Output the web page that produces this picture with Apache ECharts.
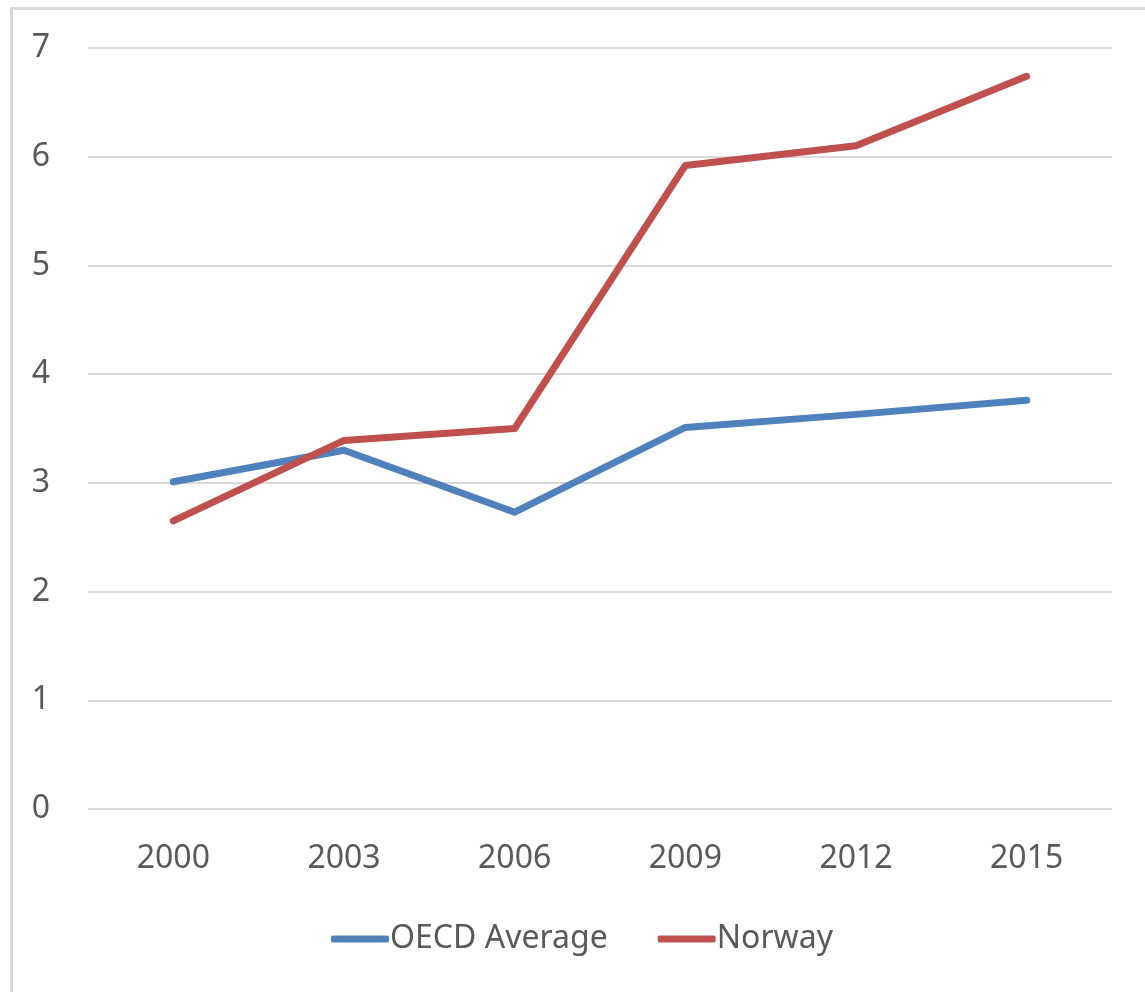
<!DOCTYPE html>
<html>
<head>
<meta charset="utf-8">
<script src="https://cdn.jsdelivr.net/npm/echarts@6/dist/echarts.min.js"></script>
<style>
html,body{margin:0;padding:0;background:#fff;}
#frame{position:absolute;left:10px;top:7px;width:1140px;height:990px;border-left:3px solid #d9d9d9;border-top:3px solid #d9d9d9;}
#chart{position:absolute;left:0;top:0;width:1145px;height:992px;}
</style>
</head>
<body>
<div id="frame"></div>
<div id="chart"></div>
<script>
// values
const years = ['2000', '2003', '2006', '2009', '2012', '2015'];
const oecdAverage = [3.01, 3.30, 2.73, 3.51, 3.63, 3.76];
const norway = [2.65, 3.39, 3.50, 5.92, 6.10, 6.74];
const yTicks = {min: 0, max: 7, interval: 1};

const FONT = 'Noto Sans';
const TEXT = '#595959';

const chart = echarts.init(document.getElementById('chart'));
chart.setOption({
    animation: false,
    textStyle: {fontFamily: FONT},
    grid: {left: 88, right: 33, top: 48, bottom: 183},
    legend: {
        left: 326,
        top: 918,
        itemWidth: 58,
        itemHeight: 7,
        itemGap: 50,
        icon: 'roundRect',
        textStyle: {fontFamily: FONT, fontSize: 32, color: TEXT, padding: [0, 0, 0, -4]},
        data: ['OECD Average', 'Norway']
    },
    xAxis: {
        type: 'category',
        data: years,
        boundaryGap: true,
        axisLine: {show: false},
        axisTick: {show: false},
        axisLabel: {fontFamily: FONT, fontSize: 32, color: TEXT, margin: 34}
    },
    yAxis: {
        type: 'value',
        min: yTicks.min,
        max: yTicks.max,
        interval: yTicks.interval,
        axisLine: {show: false},
        axisTick: {show: false},
        axisLabel: {fontFamily: FONT, fontSize: 32, color: TEXT, margin: 38},
        splitLine: {lineStyle: {color: '#d9d9d9', width: 2}}
    },
    series: [
        {
            name: 'OECD Average',
            type: 'line',
            data: oecdAverage,
            symbol: 'none',
            color: '#4f81bd',
            lineStyle: {width: 7, cap: 'round', join: 'round'}
        },
        {
            name: 'Norway',
            type: 'line',
            data: norway,
            symbol: 'none',
            color: '#c0504d',
            lineStyle: {width: 7, cap: 'round', join: 'round'}
        }
    ]
});
</script>
</body>
</html>
